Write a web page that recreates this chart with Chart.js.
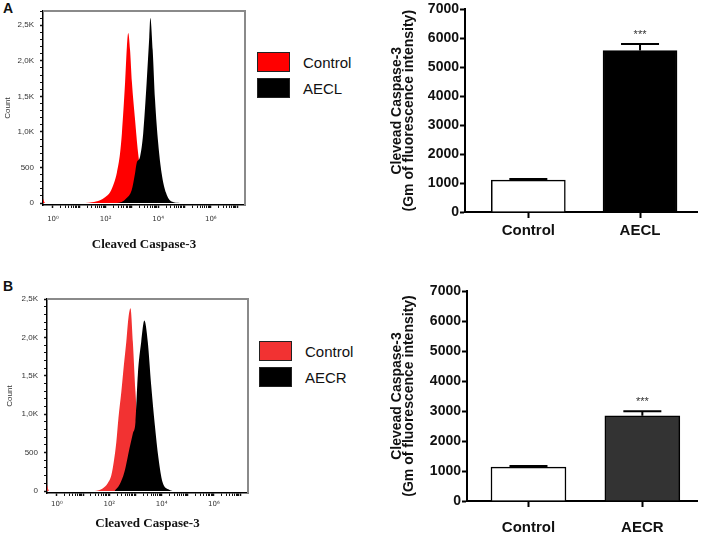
<!DOCTYPE html>
<html>
<head>
<meta charset="utf-8">
<script src="https://cdn.jsdelivr.net/npm/chart.js@4.4.0/dist/chart.umd.min.js"></script>
<style>
  body { margin: 0; background: #fff; width: 708px; height: 547px; position: relative; overflow: hidden; font-family: "Liberation Sans", Arial, sans-serif; }
  .box { position: absolute; }
  .letter { position: absolute; font-weight: bold; font-size: 14px; line-height: 14px; color: #111; }
  .legend { position: absolute; font-size: 15px; color: #111; }
  .legend-item { display: flex; align-items: center; height: 26px; }
  .legend-swatch { width: 33px; height: 20px; margin-right: 13px; box-sizing: border-box; border: 1px solid #222; }
</style>
</head>
<body>
<div class="letter" style="left:3px;top:1px">A</div>
<div class="letter" style="left:3px;top:279px">B</div>

<div class="box" style="left:0;top:0"><canvas id="histA" width="250" height="255"></canvas></div>
<div class="legend" id="legendA" style="left:257px;top:49px"></div>
<div class="box" style="left:380px;top:0"><canvas id="barA" width="328" height="250"></canvas></div>

<div class="box" style="left:0;top:280px"><canvas id="histB" width="255" height="265"></canvas></div>
<div class="legend" id="legendB" style="left:259px;top:338px"></div>
<div class="box" style="left:380px;top:280px"><canvas id="barB" width="328" height="265"></canvas></div>

<script>
// histogram x values are log10(fluorescence), y values are cell counts
const histA_ctrl_x = [-0.38, -0.3, 1.22, 1.48, 1.79, 1.98, 2.17, 2.32, 2.43, 2.55, 2.62, 2.74, 2.81, 2.86, 2.93, 3.00, 3.12, 3.23, 3.35, 3.50, 3.69, 3.92];
const histA_ctrl_y = [60, 0, 0, 10, 40, 80, 150, 280, 430, 700, 980, 1690, 2200, 2390, 2150, 1700, 1170, 720, 400, 180, 60, 0];
const histA_aecl_x = [2.36, 2.61, 2.80, 2.99, 3.12, 3.18, 3.31, 3.43, 3.56, 3.66, 3.70, 3.79, 3.88, 4.00, 4.13, 4.30, 4.51, 4.83];
const histA_aecl_y = [0, 15, 70, 180, 420, 560, 650, 980, 1690, 2330, 2600, 2150, 1450, 840, 420, 140, 20, 0];

const histB_ctrl_x = [-0.38, -0.3, 1.44, 1.76, 1.94, 2.08, 2.18, 2.27, 2.35, 2.46, 2.56, 2.65, 2.73, 2.81, 2.90, 3.00, 3.08, 3.17, 3.30, 3.53, 3.76];
const histB_ctrl_y = [80, 0, 0, 35, 100, 208, 400, 642, 950, 1293, 1650, 1944, 2250, 2380, 1944, 1293, 860, 500, 200, 40, 0];
const histB_aecr_x = [2.20, 2.39, 2.58, 2.77, 2.90, 3.00, 3.09, 3.22, 3.34, 3.47, 3.60, 3.74, 3.88, 4.03, 4.29, 4.42];
const histB_aecr_y = [0, 80, 250, 555, 750, 900, 1510, 1944, 2220, 1944, 1380, 860, 425, 120, 15, 0];

// bar charts: geometric mean of fluorescence intensity
const barCatsA = ["Control", "AECL"];
const barMeansA = [1100, 5580];
const barErrsA = [40, 225];
const barSigA = ["", "***"];

const barCatsB = ["Control", "AECR"];
const barMeansB = [1130, 2840];
const barErrsB = [40, 155];
const barSigB = ["", "***"];

const histDecades = [0, 1, 2, 3, 4, 5, 6, 7];
const histLabelDecades = [0, 2, 4, 6];
const supDigits = { 0: "\u2070", 2: "\u00b2", 4: "\u2074", 6: "\u2076" };
const barYTicks = [0, 1000, 2000, 3000, 4000, 5000, 6000, 7000];

Chart.defaults.font.family = '"Liberation Sans", Arial, sans-serif';

// gray top/right frame of the cytometry plot
const histFrame = {
  id: "histFrame",
  afterDraw(chart) {
    const { ctx, chartArea: a } = chart;
    ctx.save();
    ctx.strokeStyle = "#8a8a8a";
    ctx.lineWidth = 2;
    ctx.beginPath();
    ctx.moveTo(a.left, a.top);
    ctx.lineTo(a.right, a.top);
    ctx.lineTo(a.right, a.bottom);
    ctx.stroke();
    ctx.restore();
  }
};

// error bars (upper half) and significance stars
const errorBars = {
  id: "errorBars",
  afterDatasetsDraw(chart, args, opts) {
    const { ctx } = chart;
    const meta = chart.getDatasetMeta(0);
    const y = chart.scales.y;
    ctx.save();
    meta.data.forEach((bar, i) => {
      const top = y.getPixelForValue(opts.means[i] + opts.errs[i]);
      const base = y.getPixelForValue(opts.means[i]);
      ctx.strokeStyle = "#000";
      ctx.lineWidth = 2;
      ctx.beginPath();
      ctx.moveTo(bar.x, base);
      ctx.lineTo(bar.x, top);
      ctx.moveTo(bar.x - 19, top);
      ctx.lineTo(bar.x + 19, top);
      ctx.stroke();
      if (opts.sig[i]) {
        ctx.fillStyle = "#333";
        ctx.font = "11px 'Liberation Sans', Arial";
        ctx.textAlign = "center";
        ctx.textBaseline = "middle";
        ctx.fillText(opts.sig[i], bar.x, top - 9);
      }
    });
    ctx.restore();
  }
};

function makeHistogram(id, series, yMin, yMax, cfg) {
  return new Chart(document.getElementById(id), {
    type: "line",
    data: {
      datasets: series.map(s => ({
        label: s.label,
        data: s.x.map((x, i) => ({ x: x, y: s.y[i] })),
        backgroundColor: s.color,
        borderColor: "rgba(0,0,0,0)",
        borderWidth: 0,
        fill: "origin",
        pointRadius: 0,
        cubicInterpolationMode: "monotone",
        order: s.order
      }))
    },
    options: {
      responsive: false,
      animation: false,
      layout: { padding: cfg.padding },
      plugins: { legend: { display: false }, tooltip: { enabled: false } },
      scales: {
        x: {
          type: "linear",
          min: -0.38,
          max: 7.3,
          afterBuildTicks: scale => {
            const t = [];
            histDecades.forEach(d => {
              t.push({ value: d });
              if (d < 7) for (let k = 2; k <= 9; k++) t.push({ value: d + Math.log10(k) });
            });
            scale.ticks = t.filter(v => v.value >= scale.min && v.value <= scale.max);
          },
          afterFit: scale => { scale.height = cfg.xHeight; },
          grid: {
            drawOnChartArea: false,
            tickLength: 3,
            tickColor: "#111",
            tickWidth: c => (Number.isInteger(c.tick.value) ? 1.5 : 1)
          },
          border: { color: "#000", width: 1.5 },
          ticks: {
            autoSkip: false,
            maxRotation: 0,
            padding: cfg.xTickPad,
            color: "#333",
            font: { size: 7, family: '"DejaVu Sans", sans-serif' },
            callback: v => (histLabelDecades.includes(v) ? "10" + supDigits[v] : "")
          },
          title: {
            display: true,
            text: "Cleaved Caspase-3",
            color: "#111",
            font: { family: '"Liberation Serif", "Times New Roman", serif', size: 13, weight: "bold" },
            padding: { top: 0, bottom: cfg.xTitlePad }
          }
        },
        y: {
          min: yMin,
          max: yMax,
          afterBuildTicks: scale => {
            const t = [];
            for (let v = 0; v <= scale.max; v += 100) t.push({ value: v });
            scale.ticks = t;
          },
          afterFit: scale => { scale.width = cfg.yWidth; },
          grid: {
            drawOnChartArea: false,
            tickLength: 3,
            tickColor: "#111",
            tickWidth: c => (c.tick.value % 500 === 0 ? 1.5 : 1)
          },
          border: { color: "#000", width: 1.5 },
          ticks: {
            autoSkip: false,
            padding: 6,
            color: "#333",
            font: { size: 8 },
            callback: v => {
              if (v % 500 !== 0) return "";
              return v < 1000 ? String(v) : (v / 1000).toFixed(1).replace(".", ",") + "K";
            }
          },
          title: {
            display: true,
            text: "Count",
            color: "#333",
            font: { size: 8 },
            padding: { top: cfg.yTitlePad, bottom: 0 }
          }
        }
      }
    },
    plugins: [histFrame]
  });
}

function makeBar(id, cats, means, errs, sig, colors, cfg) {
  return new Chart(document.getElementById(id), {
    type: "bar",
    data: {
      datasets: [{
        data: cats.map((c, i) => ({ x: i, y: means[i] })),
        backgroundColor: colors,
        borderColor: "#000",
        borderWidth: 1.5,
        barThickness: cfg.barWidth
      }]
    },
    options: {
      responsive: false,
      animation: false,
      layout: { padding: cfg.padding },
      plugins: {
        legend: { display: false },
        tooltip: { enabled: false },
        errorBars: { means: means, errs: errs, sig: sig }
      },
      scales: {
        x: {
          type: "linear",
          offset: false,
          min: cfg.xMin,
          max: cfg.xMax,
          afterBuildTicks: scale => { scale.ticks = cats.map((c, i) => ({ value: i })); },
          afterFit: scale => { scale.height = cfg.xHeight; },
          grid: { offset: false, drawOnChartArea: false, tickLength: 6, tickWidth: 2, tickColor: "#000" },
          border: { color: "#000", width: 2 },
          ticks: {
            autoSkip: false,
            maxRotation: 0,
            padding: cfg.xTickPad,
            color: "#111",
            font: { size: 15, weight: "bold" },
            callback: v => cats[v]
          }
        },
        y: {
          min: 0,
          max: 7000,
          afterBuildTicks: scale => { scale.ticks = barYTicks.map(v => ({ value: v })); },
          afterFit: scale => { scale.width = cfg.yWidth; },
          grid: { drawOnChartArea: false, tickLength: 5, tickWidth: 2, tickColor: "#000" },
          border: { color: "#000", width: 2 },
          ticks: {
            padding: 1,
            color: "#111",
            font: { size: 14, weight: "bold" },
            callback: v => String(v)
          },
          title: {
            display: true,
            text: ["Clevead Caspase-3", "(Gm of fluorescence intensity)"],
            color: "#111",
            font: { size: 14, weight: "bold", lineHeight: "12px" },
            padding: { top: 11, bottom: 0 }
          }
        }
      }
    },
    plugins: [errorBars]
  });
}

function makeLegend(id, series) {
  const el = document.getElementById(id);
  series.forEach(s => {
    const item = document.createElement("div");
    item.className = "legend-item";
    const sw = document.createElement("div");
    sw.className = "legend-swatch";
    sw.style.background = s.color;
    const tx = document.createElement("span");
    tx.textContent = s.label;
    item.appendChild(sw);
    item.appendChild(tx);
    el.appendChild(item);
  });
}

const seriesA = [
  { label: "Control", x: histA_ctrl_x, y: histA_ctrl_y, color: "#ff0000", order: 2 },
  { label: "AECL", x: histA_aecl_x, y: histA_aecl_y, color: "#000000", order: 1 }
];
const seriesB = [
  { label: "Control", x: histB_ctrl_x, y: histB_ctrl_y, color: "#f23232", order: 2 },
  { label: "AECR", x: histB_aecr_x, y: histB_aecr_y, color: "#000000", order: 1 }
];

makeHistogram("histA", seriesA, -28, 2700, {
  padding: { top: 11, right: 5, left: 0, bottom: 0 },
  xHeight: 50, yWidth: 43, xTickPad: 7, xTitlePad: 3, yTitlePad: 3
});
makeHistogram("histB", seriesB, -26, 2500, {
  padding: { top: 19, right: 7, left: 0, bottom: 0 },
  xHeight: 52, yWidth: 47, xTickPad: 4, xTitlePad: 14, yTitlePad: 5
});
makeLegend("legendA", seriesA);
makeLegend("legendB", seriesB);

makeBar("barA", barCatsA, barMeansA, barErrsA, barSigA, ["#ffffff", "#000000"], {
  padding: { top: 7, right: 11, left: 0, bottom: 0 },
  xMin: -0.567, xMax: 1.51, barWidth: 74, xHeight: 38, yWidth: 85, xTickPad: 4
});
makeBar("barB", barCatsB, barMeansB, barErrsB, barSigB, ["#ffffff", "#333333"], {
  padding: { top: 11, right: 11, left: 0, bottom: 0 },
  xMin: -0.54, xMax: 1.48, barWidth: 75, xHeight: 44, yWidth: 87, xTickPad: 12
});
</script>
</body>
</html>
